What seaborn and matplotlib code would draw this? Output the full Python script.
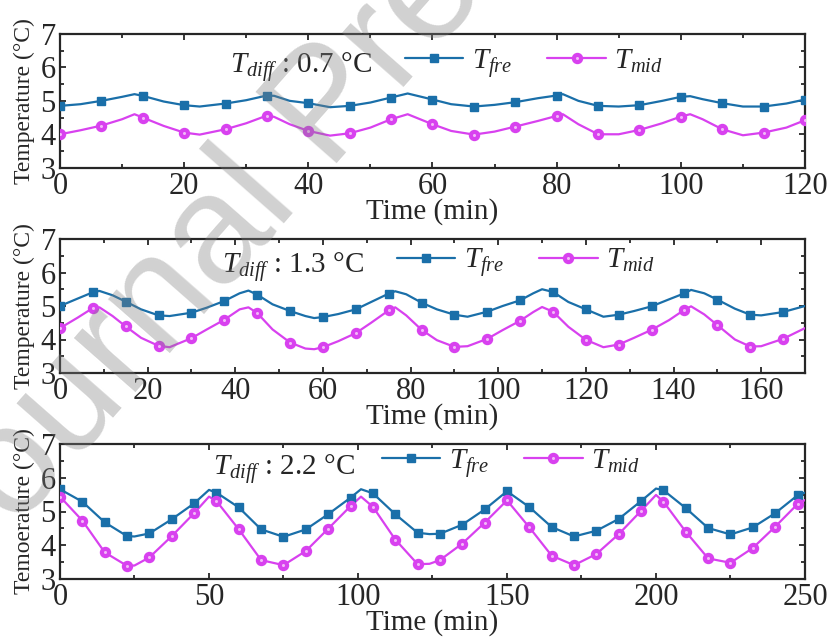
import numpy as np
import matplotlib
matplotlib.use("Agg")
import matplotlib.pyplot as plt
import seaborn as sns
from matplotlib.lines import Line2D
from matplotlib.legend_handler import HandlerTuple
from matplotlib.ticker import MultipleLocator

# ---------------- data ----------------
# Panel 1 (T_diff 0.7 °C)
t1 = [0, 3.3, 6.67, 10, 12, 13.33, 16.7, 20, 22.5, 26.67, 30, 33.33, 34.5, 37, 40,
      43.5, 46.67, 50, 53.33, 56, 60, 63, 66.67, 70, 73.33, 77, 80, 81, 83.5, 86.67,
      90, 93.33, 97, 100, 101.5, 103.5, 106.67, 110, 113.33, 117, 120]
fre1 = [4.85, 4.90, 5.00, 5.12, 5.20, 5.15, 4.98, 4.87, 4.83, 4.92, 5.02, 5.16, 5.15, 5.00, 4.93,
        4.81, 4.85, 4.95, 5.10, 5.22, 5.04, 4.90, 4.83, 4.88, 4.96, 5.08, 5.16, 5.20, 5.00, 4.85,
        4.83, 4.87, 5.00, 5.12, 5.14, 5.05, 4.93, 4.83, 4.83, 4.92, 5.04]
mid1 = [4.00, 4.12, 4.26, 4.45, 4.60, 4.50, 4.25, 4.05, 3.99, 4.15, 4.33, 4.56, 4.52, 4.30, 4.10,
        3.96, 4.03, 4.20, 4.45, 4.60, 4.30, 4.10, 3.99, 4.08, 4.23, 4.40, 4.55, 4.60, 4.30, 4.00,
        4.00, 4.13, 4.33, 4.53, 4.60, 4.45, 4.15, 3.97, 4.05, 4.20, 4.42]
mark1 = [0, 6.67, 13.33, 20, 26.67, 33.33, 40, 46.67, 53.33, 60, 66.67, 73.33, 80,
         86.67, 93.33, 100, 106.67, 113.33, 120]

# Panel 2 (T_diff 1.3 °C)
t2 = [0, 4, 7.5, 9, 12, 15, 18.5, 22.5, 25, 30, 33.5, 37.5, 41, 43, 45, 48.5, 52.5, 56, 58, 60,
      63.5, 67.5, 71, 75, 76.5, 79, 82.5, 86, 90, 93, 97.5, 101, 105, 108, 110, 112.5, 116, 120,
      124, 127.5, 131, 135, 139, 142.5, 144, 147, 150, 154, 157.5, 160, 165, 170]
fre2 = [5.00, 5.22, 5.41, 5.45, 5.32, 5.13, 4.90, 4.72, 4.70, 4.80, 4.95, 5.15, 5.38, 5.46, 5.34,
        5.05, 4.85, 4.70, 4.64, 4.67, 4.76, 4.90, 5.12, 5.37, 5.44, 5.35, 5.10, 4.90, 4.74, 4.68,
        4.83, 5.00, 5.17, 5.38, 5.50, 5.42, 5.12, 4.90, 4.68, 4.74, 4.85, 4.99, 5.20, 5.38, 5.48,
        5.38, 5.19, 4.92, 4.74, 4.72, 4.82, 5.00]
mid2 = [4.34, 4.65, 4.94, 4.96, 4.70, 4.39, 4.05, 3.81, 3.77, 4.04, 4.30, 4.59, 4.90, 4.96, 4.79,
        4.30, 3.91, 3.73, 3.71, 3.77, 3.95, 4.19, 4.50, 4.87, 4.96, 4.72, 4.29, 3.98, 3.78, 3.80,
        4.02, 4.28, 4.56, 4.82, 4.97, 4.83, 4.38, 3.99, 3.77, 3.85, 4.05, 4.29, 4.58, 4.89, 4.99,
        4.75, 4.43, 4.00, 3.79, 3.80, 4.02, 4.34]
mark2 = [0, 7.5, 15, 22.5, 30, 37.5, 45, 52.5, 60, 67.5, 75, 82.5, 90, 97.5, 105, 112.5,
         120, 127.5, 135, 142.5, 150, 157.5, 165]

# Panel 3 (T_diff 2.2 °C)
t3 = [0, 7.5, 15, 22.5, 25, 30, 37.5, 45, 50, 52.5, 60, 67.5, 75, 82.5, 90, 97.5, 101, 105,
      112.5, 120, 124, 127.5, 135, 142.5, 150, 157.5, 165, 172.5, 180, 187.5, 195, 200, 202.5,
      210, 217.5, 225, 232.5, 240, 247.5, 250]
fre3 = [5.66, 5.29, 4.68, 4.27, 4.26, 4.35, 4.77, 5.24, 5.64, 5.56, 5.12, 4.47, 4.25, 4.47, 4.92,
        5.41, 5.66, 5.54, 4.92, 4.37, 4.33, 4.34, 4.61, 5.06, 5.60, 5.13, 4.54, 4.26, 4.43, 4.78,
        5.31, 5.68, 5.63, 5.10, 4.51, 4.32, 4.53, 4.95, 5.48, 5.56]
mid3 = [5.44, 4.73, 3.79, 3.39, 3.40, 3.64, 4.27, 4.95, 5.44, 5.31, 4.47, 3.56, 3.41, 3.83, 4.49,
        5.16, 5.44, 5.14, 4.17, 3.44, 3.45, 3.56, 4.05, 4.67, 5.33, 4.53, 3.69, 3.41, 3.74, 4.33,
        5.02, 5.49, 5.29, 4.40, 3.61, 3.48, 3.92, 4.55, 5.22, 5.34]
mark3 = [0, 7.5, 15, 22.5, 30, 37.5, 45, 52.5, 60, 67.5, 75, 82.5, 90, 97.5, 105, 112.5, 120,
         127.5, 135, 142.5, 150, 157.5, 165, 172.5, 180, 187.5, 195, 202.5, 210, 217.5, 225,
         232.5, 240, 247.5]

diff_labels = ["0.7", "1.3", "2.2"]
ylabels = ["Temperature (°C)", "Temperature (°C)", "Temoerature (°C)"]
xlabel = "Time (min)"
series_labels = [r"$T_{fre}$", r"$T_{mid}$"]
xlims = [120, 170, 250]
xmajor = [20, 20, 50]
xminor = [10, 10, 25]

# ---------------- style ----------------
sns.set_style("ticks")
plt.rcParams["font.family"] = ["Liberation Serif", "DejaVu Serif"]
plt.rcParams["mathtext.fontset"] = "custom"
plt.rcParams["mathtext.rm"] = "Liberation Serif"
plt.rcParams["mathtext.it"] = "Liberation Serif:italic"
plt.rcParams["axes.linewidth"] = 1.6

BLUE = "#1a6fa9"
PINK = "#d841ef"
PINK_HI = "#f3b8f9"

fig = plt.figure(figsize=(8.28, 6.42), dpi=100)

positions = [
    [60 / 828, 1 - 167.7 / 642, 745 / 828, 133.7 / 642],
    [60 / 828, 1 - 373 / 642, 745 / 828, 134 / 642],
    [60 / 828, 1 - 579 / 642, 745 / 828, 135 / 642],
]
legend_anchor = [(0.463, 0.783), (0.452, 0.821), (0.432, 0.859)]
diff_pos = [(0.228, 0.708), (0.2175, 0.746), (0.205, 0.77)]

panels = [(t1, fre1, mid1, mark1), (t2, fre2, mid2, mark2), (t3, fre3, mid3, mark3)]

for i, (t, fre, mid, mk) in enumerate(panels):
    ax = fig.add_axes(positions[i])
    t = np.asarray(t, float)
    fre = np.asarray(fre, float)
    mid = np.asarray(mid, float)
    mk = np.asarray(mk, float)
    mask = np.array([np.any(np.isclose(v, mk)) for v in t])

    sns.lineplot(x=t, y=fre, ax=ax, color=BLUE, lw=1.6, sort=False, zorder=3)
    sns.lineplot(x=t, y=mid, ax=ax, color=PINK, lw=1.6, sort=False, zorder=3)
    ax.plot(t[mask], fre[mask], ls="none", marker="s", ms=6.3, color=BLUE,
            mec=BLUE, zorder=4)
    ax.plot(t[mask], mid[mask], ls="none", marker="o", ms=7.2, color=PINK,
            mec=PINK, zorder=4)
    ax.plot(t[mask], mid[mask], ls="none", marker="o", ms=2.2, color=PINK_HI,
            mec="none", zorder=5)

    ax.set_xlim(0, xlims[i])
    ax.set_ylim(3, 7)
    ax.xaxis.set_major_locator(MultipleLocator(xmajor[i]))
    ax.xaxis.set_minor_locator(MultipleLocator(xminor[i]))
    ax.yaxis.set_major_locator(MultipleLocator(1))
    ax.yaxis.set_minor_locator(MultipleLocator(0.5))
    ax.tick_params(which="both", direction="in", top=True, right=True,
                   width=1.3, labelsize=22, pad=3)
    ax.tick_params(which="major", length=4.5)
    ax.tick_params(which="minor", length=2.8)

    ax.set_xlabel(xlabel, fontsize=21, labelpad=-2)
    ax.set_ylabel(ylabels[i], fontsize=17)
    ax.yaxis.set_label_coords(-0.034, 0.5)

    h_fre = Line2D([], [], color=BLUE, lw=1.6, marker="s", ms=6.3)
    h_mid = Line2D([], [], color=PINK, lw=1.6, marker="o", ms=7.2)
    h_hi = Line2D([], [], color=PINK_HI, ls="none", marker="o", ms=2.2, mec="none")
    ax.legend([h_fre, (h_mid, h_hi)], series_labels,
              handler_map={tuple: HandlerTuple(ndivide=1)},
              loc="center left", bbox_to_anchor=legend_anchor[i],
              ncol=2, frameon=False, fontsize=21, borderpad=0, borderaxespad=0,
              handlelength=2.0, handletextpad=0.3, columnspacing=1.2,
              numpoints=1)

    ax.text(diff_pos[i][0], diff_pos[i][1],
            r"$T_{diff}$" + " : " + diff_labels[i] + " °C",
            transform=ax.transAxes, fontsize=21, va="baseline", ha="left")

# watermark
fig.text(330 / 828, 1 - 110 / 642, "Journal Pre-proof", fontsize=112,
         family=["Liberation Sans", "DejaVu Sans"],
         color="#808080", alpha=0.36, rotation=48.7, rotation_mode="anchor",
         ha="center", va="center", zorder=10)

fig.savefig("out.png", dpi=100)
